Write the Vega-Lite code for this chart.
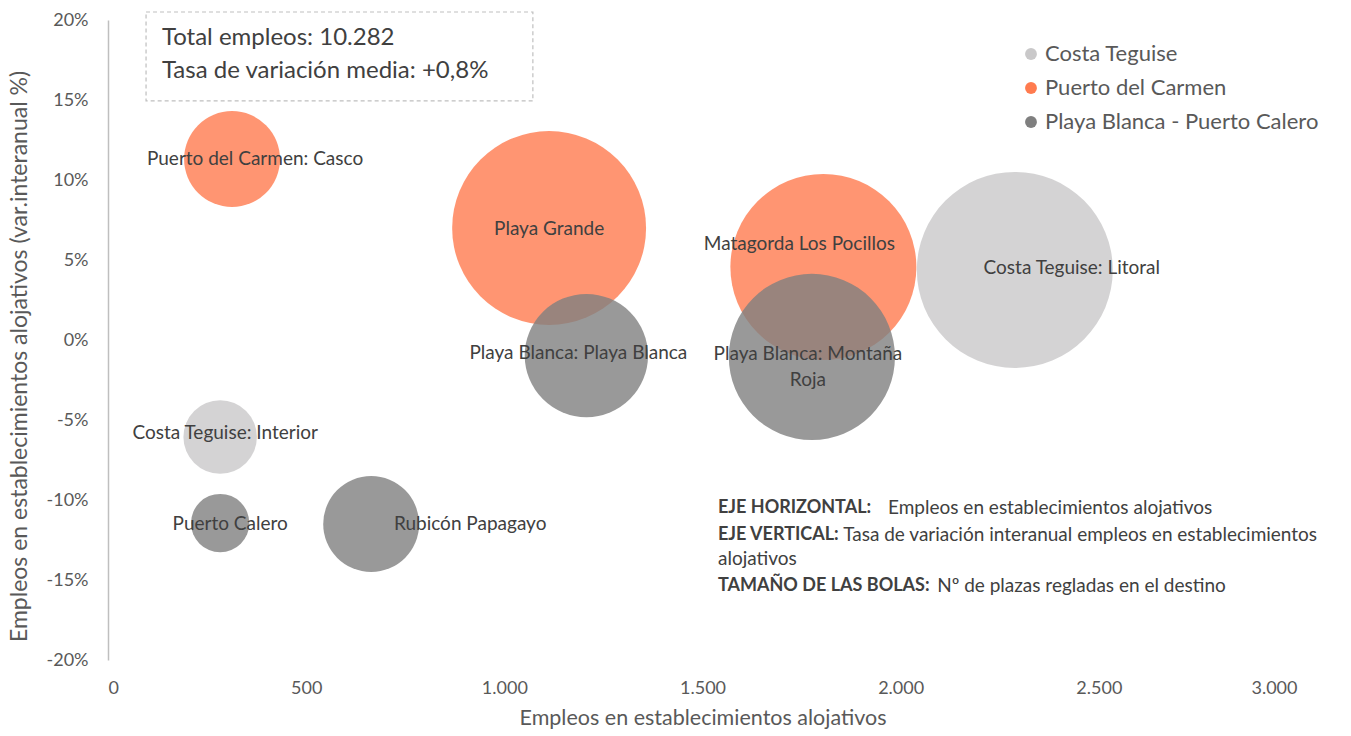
{
  "$schema": "https://vega.github.io/schema/vega-lite/v6.json",
  "width": 1189,
  "height": 640,
  "autosize": "none",
  "padding": {"left": 108, "top": 20, "right": 54, "bottom": 76},
  "background": "white",
  "config": {
    "view": {"stroke": null},
    "font": "Lato",
    "axis": {"grid": false, "ticks": false, "labelFont": "Lato", "titleFont": "Lato", "labelColor": "#595959", "titleColor": "#595959", "titleFontWeight": "normal"}
  },
  "datasets": {
    "zonas": [
      {"zona": "Costa Teguise", "nombre": "Costa Teguise: Litoral", "empleos": 2288, "tasa": 4.38, "plazas": 19200},
      {"zona": "Costa Teguise", "nombre": "Costa Teguise: Interior", "empleos": 283, "tasa": -6.06, "plazas": 2700},
      {"zona": "Puerto del Carmen", "nombre": "Puerto del Carmen: Casco", "empleos": 313, "tasa": 11.31, "plazas": 4600},
      {"zona": "Puerto del Carmen", "nombre": "Playa Grande", "empleos": 1113, "tasa": 7.0, "plazas": 18800},
      {"zona": "Puerto del Carmen", "nombre": "Matagorda Los Pocillos", "empleos": 1805, "tasa": 4.56, "plazas": 17300},
      {"zona": "Playa Blanca - Puerto Calero", "nombre": "Playa Blanca: Playa Blanca", "empleos": 1207, "tasa": -0.97, "plazas": 7600},
      {"zona": "Playa Blanca - Puerto Calero", "nombre": "Playa Blanca: Montaña\nRoja", "empleos": 1776, "tasa": -1.06, "plazas": 13800},
      {"zona": "Playa Blanca - Puerto Calero", "nombre": "Puerto Calero", "empleos": 283, "tasa": -11.44, "plazas": 1700},
      {"zona": "Playa Blanca - Puerto Calero", "nombre": "Rubicón Papagayo", "empleos": 664, "tasa": -11.5, "plazas": 4600}
    ],
    "cuadro": [{"x0": 96, "x1": 1072, "y0": 20.5, "y1": 14.94}],
    "cuadroTexto": [
      {"texto": "Total empleos: 10.282", "x": 136, "y": 18.88},
      {"texto": "Tasa de variación media: +0,8%", "x": 136, "y": 16.82}
    ],
    "notaNegrita": [
      {"texto": "EJE HORIZONTAL:", "x": 1539, "y": -10.5},
      {"texto": "EJE VERTICAL:", "x": 1539, "y": -12.19},
      {"texto": "TAMAÑO DE LAS BOLAS:", "x": 1539, "y": -15.38}
    ],
    "notaTexto": [
      {"texto": "Empleos en establecimientos alojativos", "x": 1968, "y": -10.5},
      {"texto": "Tasa de variación interanual empleos en establecimientos", "x": 1855, "y": -12.19},
      {"texto": "alojativos", "x": 1539, "y": -13.69},
      {"texto": "Nº de plazas regladas en el destino", "x": 2092, "y": -15.38}
    ]
  },
  "layer": [
    {
      "mark": {"type": "rule", "color": "#bfbfbf", "strokeWidth": 1.5},
      "encoding": {"y": {"datum": 0, "type": "quantitative", "scale": {"domain": [-20, 20], "nice": false}}}
    },
    {
      "data": {"name": "zonas"},
      "mark": {"type": "circle", "opacity": 0.8, "stroke": null},
      "encoding": {
        "x": {"field": "empleos", "type": "quantitative", "scale": {"domain": [0, 3000], "nice": false},
              "axis": {"values": [0, 500, 1000, 1500, 2000, 2500, 3000], "domain": false, "labelFontSize": 18, "labelPadding": 19,
                       "labelExpr": "replace(format(datum.value, ','), ',', '.')", "title": "Empleos en establecimientos alojativos", "titleFontSize": 21.5, "titlePadding": 10}},
        "y": {"field": "tasa", "type": "quantitative", "scale": {"domain": [-20, 20], "nice": false},
              "axis": {"values": [-20, -15, -10, -5, 0, 5, 10, 15, 20], "domainColor": "#bfbfbf", "domainWidth": 1.5, "labelFontSize": 18, "labelPadding": 20,
                       "labelExpr": "datum.value + '%'", "title": "Empleos en establecimientos alojativos (var.interanual %)", "titleFontSize": 23, "titlePadding": 15, "titleY": 336}},
        "size": {"field": "plazas", "type": "quantitative", "scale": {"type": "linear", "domain": [0, 20000], "range": [0, 40000], "zero": true}, "legend": null},
        "color": {"field": "zona", "type": "nominal", "sort": null,
                  "scale": {"domain": ["Costa Teguise", "Puerto del Carmen", "Playa Blanca - Puerto Calero"], "range": ["#c9c8c9", "#ff7b4f", "#7f7f7f"]},
                  "legend": {"title": null, "orient": "none", "legendX": 912, "legendY": 23, "symbolType": "circle", "symbolSize": 140, "symbolOpacity": 1,
                             "labelFontSize": 22, "labelColor": "#595959", "rowPadding": 12, "labelOffset": 3, "labelLimit": 400}}
      }
    },
    {
      "data": {"name": "zonas"},
      "transform": [{"filter": "datum.nombre == 'Playa Grande'"}],
      "mark": {"type": "text", "fontSize": 19, "color": "#404040", "dx": 0, "dy": 1},
      "encoding": {"x": {"field": "empleos", "type": "quantitative"}, "y": {"field": "tasa", "type": "quantitative"}, "text": {"field": "nombre"}}
    },
    {
      "data": {"name": "zonas"},
      "transform": [{"filter": "datum.nombre == 'Costa Teguise: Litoral'"}],
      "mark": {"type": "text", "fontSize": 19, "color": "#404040", "dx": 57, "dy": -2},
      "encoding": {"x": {"field": "empleos", "type": "quantitative"}, "y": {"field": "tasa", "type": "quantitative"}, "text": {"field": "nombre"}}
    },
    {
      "data": {"name": "zonas"},
      "transform": [{"filter": "datum.nombre == 'Costa Teguise: Interior'"}],
      "mark": {"type": "text", "fontSize": 19, "color": "#404040", "dx": 5, "dy": -4},
      "encoding": {"x": {"field": "empleos", "type": "quantitative"}, "y": {"field": "tasa", "type": "quantitative"}, "text": {"field": "nombre"}}
    },
    {
      "data": {"name": "zonas"},
      "transform": [{"filter": "datum.nombre == 'Puerto del Carmen: Casco'"}],
      "mark": {"type": "text", "fontSize": 19, "color": "#404040", "dx": 23, "dy": 0},
      "encoding": {"x": {"field": "empleos", "type": "quantitative"}, "y": {"field": "tasa", "type": "quantitative"}, "text": {"field": "nombre"}}
    },
    {
      "data": {"name": "zonas"},
      "transform": [{"filter": "datum.nombre == 'Matagorda Los Pocillos'"}],
      "mark": {"type": "text", "fontSize": 19, "color": "#404040", "dx": -24, "dy": -23},
      "encoding": {"x": {"field": "empleos", "type": "quantitative"}, "y": {"field": "tasa", "type": "quantitative"}, "text": {"field": "nombre"}}
    },
    {
      "data": {"name": "zonas"},
      "transform": [{"filter": "datum.nombre == 'Playa Blanca: Playa Blanca'"}],
      "mark": {"type": "text", "fontSize": 19, "color": "#404040", "dx": -8, "dy": -3},
      "encoding": {"x": {"field": "empleos", "type": "quantitative"}, "y": {"field": "tasa", "type": "quantitative"}, "text": {"field": "nombre"}}
    },
    {
      "data": {"name": "zonas"},
      "transform": [{"filter": "indexof(datum.nombre, 'Montaña') >= 0"}],
      "mark": {"type": "text", "fontSize": 19, "color": "#404040", "dx": -4, "dy": -3, "lineBreak": "\n", "lineHeight": 26},
      "encoding": {"x": {"field": "empleos", "type": "quantitative"}, "y": {"field": "tasa", "type": "quantitative"}, "text": {"field": "nombre"}}
    },
    {
      "data": {"name": "zonas"},
      "transform": [{"filter": "datum.nombre == 'Puerto Calero'"}],
      "mark": {"type": "text", "fontSize": 19, "color": "#404040", "dx": 10, "dy": 1},
      "encoding": {"x": {"field": "empleos", "type": "quantitative"}, "y": {"field": "tasa", "type": "quantitative"}, "text": {"field": "nombre"}}
    },
    {
      "data": {"name": "zonas"},
      "transform": [{"filter": "datum.nombre == 'Rubicón Papagayo'"}],
      "mark": {"type": "text", "fontSize": 19, "color": "#404040", "dx": 99, "dy": 0},
      "encoding": {"x": {"field": "empleos", "type": "quantitative"}, "y": {"field": "tasa", "type": "quantitative"}, "text": {"field": "nombre"}}
    },
    {
      "data": {"name": "cuadro"},
      "mark": {"type": "rect", "fill": null, "stroke": "#bfbfbf", "strokeDash": [4, 3], "strokeWidth": 1.2},
      "encoding": {"x": {"field": "x0", "type": "quantitative"}, "x2": {"field": "x1"}, "y": {"field": "y0", "type": "quantitative"}, "y2": {"field": "y1"}}
    },
    {
      "data": {"name": "cuadroTexto"},
      "mark": {"type": "text", "align": "left", "baseline": "middle", "fontSize": 24, "color": "#404040"},
      "encoding": {"x": {"field": "x", "type": "quantitative"}, "y": {"field": "y", "type": "quantitative"}, "text": {"field": "texto"}}
    },
    {
      "data": {"name": "notaNegrita"},
      "mark": {"type": "text", "align": "left", "baseline": "middle", "fontSize": 18, "fontWeight": "bold", "color": "#404040"},
      "encoding": {"x": {"field": "x", "type": "quantitative"}, "y": {"field": "y", "type": "quantitative"}, "text": {"field": "texto"}}
    },
    {
      "data": {"name": "notaTexto"},
      "mark": {"type": "text", "align": "left", "baseline": "middle", "fontSize": 19, "color": "#404040"},
      "encoding": {"x": {"field": "x", "type": "quantitative"}, "y": {"field": "y", "type": "quantitative"}, "text": {"field": "texto"}}
    }
  ]
}
